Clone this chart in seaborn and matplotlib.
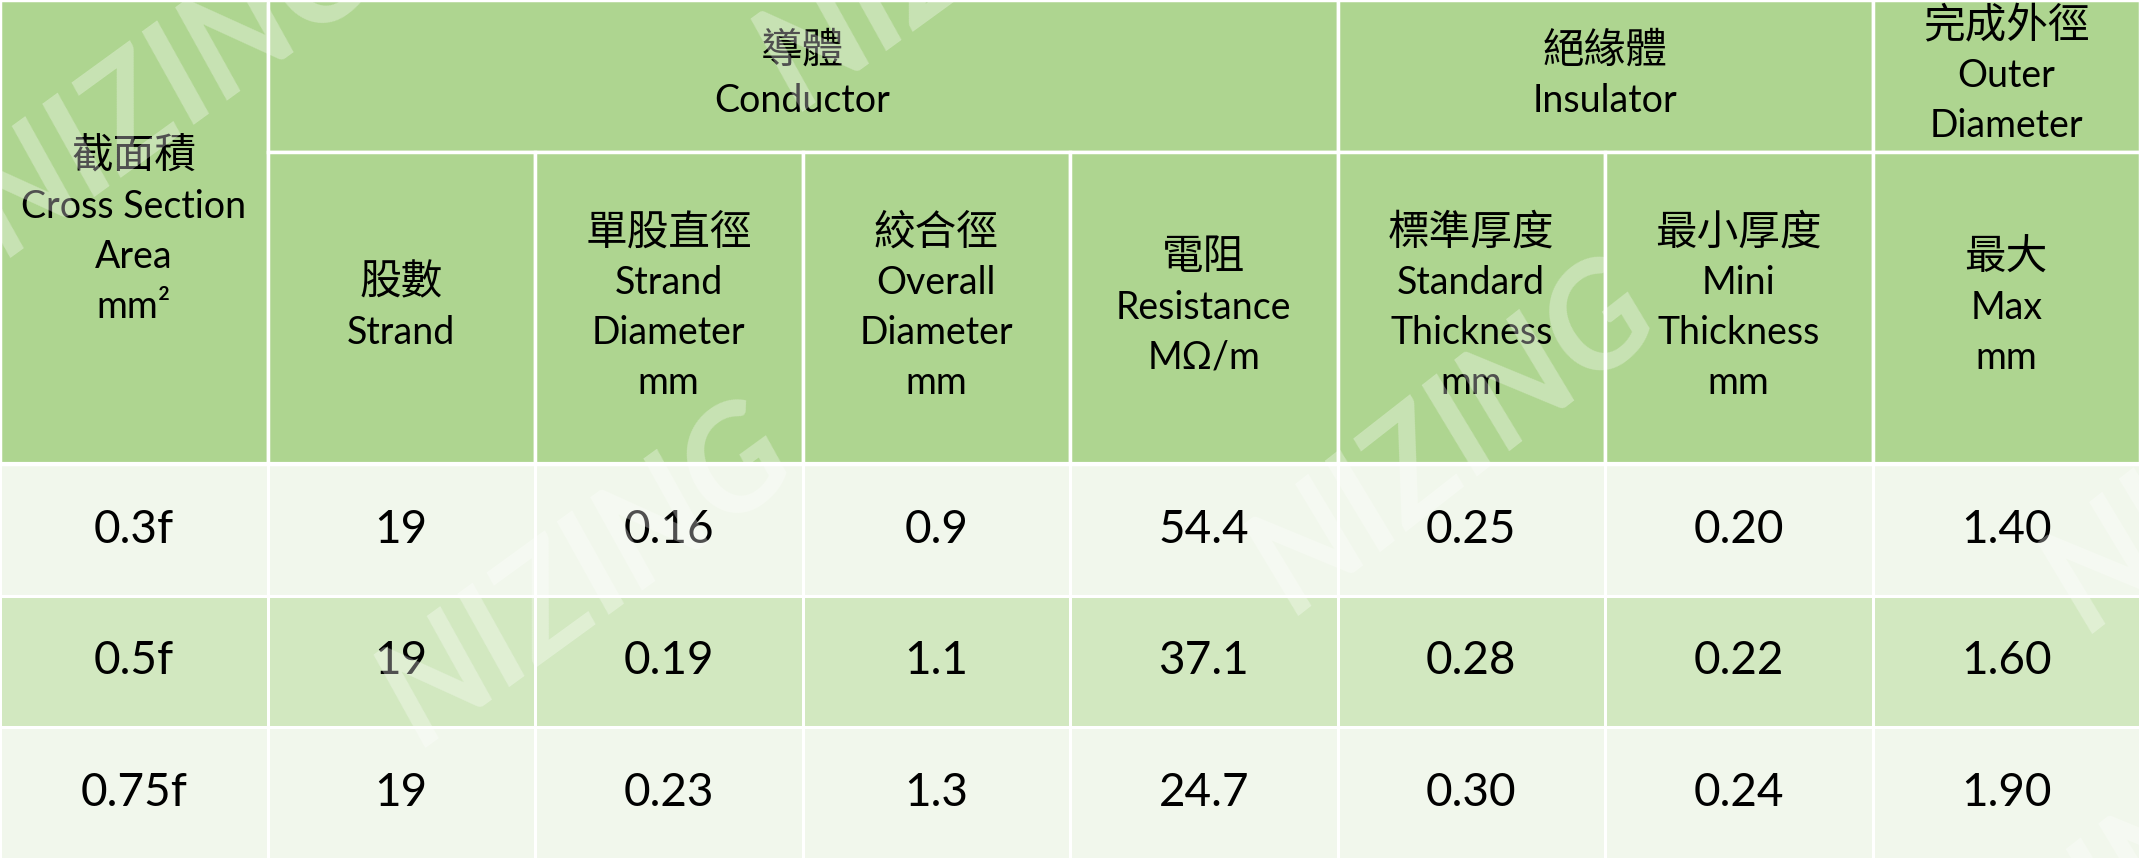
"""Cable spec table (NIZING) redrawn as a seaborn heatmap with a hand-made header."""

import matplotlib
matplotlib.use("Agg")  # headless rendering
import matplotlib.pyplot as plt
import numpy as np
import seaborn as sns
from matplotlib.colors import ListedColormap
from matplotlib.patches import Rectangle

# table values, one list per column
areas = ["0.3f", "0.5f", "0.75f"]
strands = ["19", "19", "19"]
strand_dia = ["0.16", "0.19", "0.23"]
overall_dia = ["0.9", "1.1", "1.3"]
resistance = ["54.4", "37.1", "24.7"]
std_thick = ["0.25", "0.28", "0.30"]
min_thick = ["0.20", "0.22", "0.24"]
outer_max = ["1.40", "1.60", "1.90"]

# header texts
area_label = ["截面積", "Cross Section", "Area", "mm²"]
group_labels = [["導體", "Conductor"], ["絕緣體", "Insulator"], ["完成外徑", "Outer", "Diameter"]]
group_cols = [(1, 5), (5, 7), (7, 8)]
col_labels = [
    ["股數", "Strand"],
    ["單股直徑", "Strand", "Diameter", "mm"],
    ["絞合徑", "Overall", "Diameter", "mm"],
    ["電阻", "Resistance", "MΩ/m"],
    ["標準厚度", "Standard", "Thickness", "mm"],
    ["最小厚度", "Mini", "Thickness", "mm"],
    ["最大", "Max", "mm"],
]

HEADER_GREEN = "#AED590"
ROW_LIGHT = "#F1F7EC"
ROW_MID = "#D2E8C0"
FONTS = ["Lato", "Noto Sans CJK TC", "DejaVu Sans"]
CJK_FONTS = ["Noto Sans CJK TC", "DejaVu Sans"]

W, H = 2140, 859
ROW_PX = 395 / 3            # height of one data row in pixels
HEAD = 464 / ROW_PX          # header height in data-row units
TOP = 152 / ROW_PX           # first header band
PITCH = 50 / ROW_PX          # line spacing in header cells

sns.set_theme(style="white")
plt.rcParams["font.family"] = FONTS

cells = np.array([areas, strands, strand_dia, overall_dia,
                  resistance, std_thick, min_thick, outer_max]).T
bands = np.array([[i % 2] * cells.shape[1] for i in range(cells.shape[0])])

fig = plt.figure(figsize=(W / 100, H / 100), dpi=100)
ax = fig.add_axes([0, 0, 1, 1])

sns.heatmap(
    bands,
    annot=cells,
    fmt="",
    cmap=ListedColormap([ROW_LIGHT, ROW_MID]),
    cbar=False,
    linewidths=2,
    linecolor="white",
    annot_kws={"fontsize": 33, "color": "black", "family": FONTS},
    ax=ax,
)


def cell_text(x, y, lines):
    n = len(lines)
    for i, line in enumerate(lines):
        cjk = any(ord(ch) > 0x2E80 for ch in line)
        ax.text(x, y + (i - (n - 1) / 2) * PITCH, line,
                ha="center", va="center", color="black",
                fontsize=30 if cjk else 27,
                family=CJK_FONTS if cjk else FONTS)


def header_box(x, y, w, h):
    ax.add_patch(Rectangle((x, y), w, h, facecolor=HEADER_GREEN,
                           edgecolor="white", lw=2.5, zorder=1))


header_box(0, -HEAD, 1, HEAD)
cell_text(0.5, -HEAD / 2, area_label)

for (c0, c1), lines in zip(group_cols, group_labels):
    header_box(c0, -HEAD, c1 - c0, TOP)
    cell_text((c0 + c1) / 2, -HEAD + TOP / 2, lines)

for c, lines in enumerate(col_labels, start=1):
    header_box(c, -HEAD + TOP, 1, HEAD - TOP)
    cell_text(c + 0.5, (-HEAD + TOP) / 2, lines)

ax.axhline(0, color="white", lw=3, zorder=3)

# faint watermark, repeated across the table as in the source image
for (wx, wy, rot) in [(0.274, 0.33, 36), (0.679, 0.49, 38), (0.08, 0.90, 36),
                      (1.05, 0.47, 38), (0.45, 1.07, 36), (0.98, -0.05, 38)]:
    ax.text(wx, wy, "NIZING", transform=ax.transAxes, rotation=rot,
            fontsize=105, fontweight="bold", style="italic", family=FONTS,
            color="white", alpha=0.32, ha="center", va="center", zorder=6)

ax.set_xlim(0, cells.shape[1])
ax.set_ylim(cells.shape[0], -HEAD)
ax.axis("off")

plt.savefig("out.png", dpi=100)
plt.close(fig)
